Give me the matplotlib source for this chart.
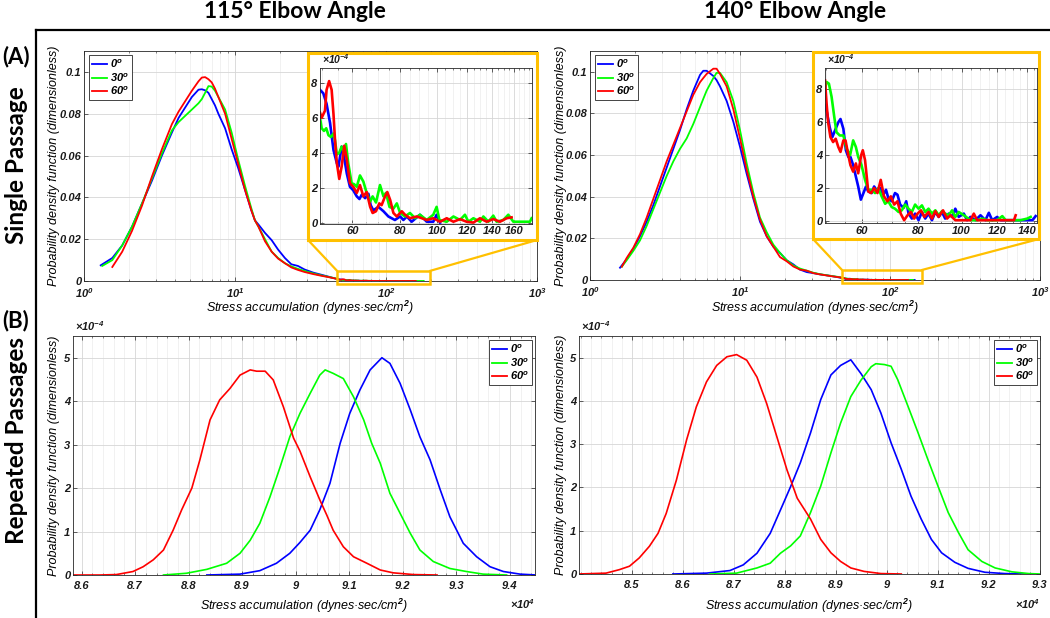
import matplotlib
matplotlib.use('Agg')
import matplotlib.pyplot as plt
import numpy as np
from matplotlib.patches import Rectangle, ConnectionPatch
from matplotlib.lines import Line2D
from matplotlib.ticker import LogLocator, NullFormatter, MultipleLocator, FixedLocator

plt.rcParams['font.family'] = ['Liberation Sans', 'DejaVu Sans']
plt.rcParams['font.style'] = 'italic'
plt.rcParams['font.weight'] = 'bold'
plt.rcParams['mathtext.fontset'] = 'custom'
plt.rcParams['mathtext.rm'] = 'Liberation Sans:italic:bold'
plt.rcParams['mathtext.it'] = 'Liberation Sans:italic:bold'
plt.rcParams['mathtext.bf'] = 'Liberation Sans:italic:bold'

# ---------------- DATA ----------------
labels = [r'0$^{o}$', r'30$^{o}$', r'60$^{o}$']
colors = ['#0000ff', '#00ff00', '#ff0000']
col_titles = ['115° Elbow Angle', '140° Elbow Angle']
row_titles = ['Single Passage', 'Repeated Passages']
row_tags = ['(A)', '(B)']

# --- (A) 115 deg, main curves (x: stress accumulation, y: pdf)
a115_0_x = [1.29, 1.54, 1.79, 2.08, 2.42, 2.82, 3.28, 3.82, 4.23, 4.68, 5.18, 5.73, 6.03, 6.34, 6.67, 7.01, 7.37, 7.76, 8.6, 9.5, 10.5, 11.6, 12.8, 13.55, 14.3, 15.8, 17.5, 19.3, 21.4, 23.6, 26.1, 28.9, 33.0, 37.3, 42.0, 46.0]
a115_0_y = [0.0075, 0.011, 0.017, 0.026, 0.037, 0.048, 0.060, 0.071, 0.078, 0.083, 0.088, 0.0915, 0.0917, 0.0912, 0.090, 0.087, 0.084, 0.080, 0.073, 0.063, 0.054, 0.044, 0.034, 0.029, 0.027, 0.023, 0.0195, 0.0150, 0.011, 0.008, 0.0072, 0.0055, 0.004, 0.003, 0.002, 0.0012]
a115_30_x = [1.32, 1.54, 1.79, 2.08, 2.42, 2.82, 3.28, 3.82, 4.23, 4.68, 5.18, 5.73, 6.03, 6.34, 6.67, 7.01, 7.37, 7.76, 8.6, 9.5, 10.5, 11.6, 12.8, 13.55, 14.3, 15.8, 17.5, 19.3, 21.4, 23.6, 26.1, 28.9, 33.0, 37.3, 42.0, 46.0]
a115_30_y = [0.0072, 0.010, 0.017, 0.026, 0.037, 0.049, 0.061, 0.072, 0.076, 0.079, 0.082, 0.085, 0.087, 0.090, 0.0932, 0.093, 0.091, 0.088, 0.082, 0.071, 0.058, 0.046, 0.035, 0.029, 0.026, 0.020, 0.014, 0.011, 0.0085, 0.007, 0.0058, 0.0048, 0.0036, 0.0027, 0.0019, 0.0013]
a115_60_x = [1.54, 1.79, 2.08, 2.42, 2.82, 3.28, 3.82, 4.23, 4.68, 5.18, 5.73, 6.03, 6.34, 6.67, 7.01, 7.37, 7.76, 8.6, 9.5, 10.5, 11.6, 12.8, 13.55, 14.3, 15.8, 17.5, 19.3, 21.4, 23.6, 26.1, 28.9, 33.0, 37.3, 42.0, 46.0]
a115_60_y = [0.0067, 0.014, 0.024, 0.036, 0.050, 0.063, 0.075, 0.081, 0.086, 0.091, 0.0955, 0.0973, 0.0975, 0.0965, 0.095, 0.092, 0.088, 0.080, 0.068, 0.056, 0.044, 0.034, 0.029, 0.026, 0.019, 0.014, 0.0107, 0.0085, 0.0065, 0.0053, 0.0043, 0.0033, 0.0025, 0.0018, 0.0012]

# --- (A) 115 deg, tails (y in units of 1e-4)
t115_0_x = [49.3, 50.3, 51.3, 52.4, 53.5, 54.0, 54.6, 55.1, 55.7, 56.2, 56.8, 58.0, 59.1, 60.3, 61.6, 62.6, 63.5, 64.8, 66.1, 67.0, 68.1, 70.2, 72.4, 74.6, 77.6, 80.1, 81.7, 83.4, 85.9, 90.3, 94.1, 97.9, 99.9, 102.0]
t115_0_y = [7.6, 7.4, 6.8, 5.7, 4.15, 3.8, 3.4, 3.2, 3.8, 4.35, 4.0, 2.8, 2.05, 1.85, 1.5, 1.35, 1.6, 1.4, 1.65, 1.0, 0.7, 0.9, 0.65, 0.35, 0.15, 0.35, 0.15, 0.35, 0.05, 0.45, 0.05, 0.05, 0.45, 0.0]
t115_30_x = [49.3, 49.8, 50.5, 51.2, 51.9, 52.7, 53.5, 54.0, 54.6, 55.4, 56.2, 57.0, 57.7, 58.5, 59.7, 60.6, 61.6, 62.8, 64.1, 65.4, 66.8, 67.8, 69.2, 70.9, 72.4, 73.5, 75.1, 76.9, 78.5, 80.1, 82.5, 85.0, 87.7, 90.3, 94.1, 97.9, 99.9, 101.6, 106.2, 110.6, 115.1, 118.6, 121.1, 124.8, 129.9, 132.6, 136.7, 140.8, 143.7, 149.6, 154.2, 159.0, 165.5, 175.8, 177.6]
t115_30_y = [6.0, 5.4, 5.25, 5.4, 5.0, 4.9, 5.1, 4.7, 3.9, 4.0, 4.35, 4.05, 4.5, 3.4, 2.25, 2.2, 2.05, 2.7, 2.35, 1.7, 1.2, 1.5, 1.15, 2.15, 1.5, 1.7, 0.9, 0.8, 1.1, 0.55, 0.35, 0.55, 0.25, 0.45, 0.15, 0.45, 0.9, 0.15, 0.05, 0.35, 0.15, 0.45, 0.05, 0.25, 0.05, 0.35, 0.05, 0.4, 0.05, 0.15, 0.45, 0.05, 0.05, 0.05, 0.25]
t115_60_x = [49.3, 49.8, 50.8, 51.3, 52.1, 52.9, 53.5, 54.0, 54.6, 55.4, 56.2, 57.1, 58.0, 59.1, 60.3, 61.6, 62.8, 64.1, 65.4, 66.8, 67.8, 69.2, 70.6, 71.6, 73.1, 74.1, 75.4, 76.9, 78.5, 80.9, 82.5, 85.0, 88.6, 94.1, 97.9, 102.0, 106.2, 110.6, 115.1, 119.8, 124.8, 129.9, 135.3, 140.8, 146.6, 152.7, 157.3]
t115_60_y = [6.3, 6.0, 6.4, 7.6, 8.1, 7.6, 6.2, 4.7, 3.4, 2.5, 3.2, 4.4, 3.6, 2.25, 2.05, 1.7, 2.15, 1.5, 1.75, 0.9, 0.55, 0.65, 1.1, 1.0, 1.5, 1.75, 1.3, 0.55, 0.35, 0.65, 0.45, 0.25, 0.35, 0.15, 0.25, 0.05, 0.25, 0.05, 0.2, 0.05, 0.0, 0.25, 0.05, 0.2, 0.05, 0.25, 0.3]

# --- (A) 140 deg, main curves
a140_0_x = [1.585, 1.756, 1.945, 2.154, 2.387, 2.644, 2.929, 3.245, 3.594, 3.981, 4.41, 4.885, 5.412, 5.69, 5.995, 6.641, 6.98, 7.356, 8.149, 9.027, 10.0, 11.08, 12.27, 13.59, 15.06, 16.68, 18.48, 20.47, 22.68, 25.12, 27.83, 30.83, 34.1, 40.0, 46.0]
a140_0_y = [0.0059, 0.010, 0.015, 0.021, 0.028, 0.036, 0.045, 0.054, 0.063, 0.072, 0.082, 0.091, 0.0985, 0.1005, 0.1005, 0.098, 0.096, 0.093, 0.086, 0.076, 0.064, 0.051, 0.039, 0.028, 0.021, 0.016, 0.013, 0.0095, 0.0075, 0.005, 0.0038, 0.0033, 0.0027, 0.002, 0.0012]
a140_30_x = [1.63, 1.756, 1.945, 2.154, 2.387, 2.644, 2.929, 3.245, 3.594, 3.981, 4.41, 4.885, 5.412, 5.69, 5.995, 6.641, 6.98, 7.356, 8.149, 9.027, 10.0, 11.08, 12.27, 13.59, 15.06, 16.68, 18.48, 20.47, 22.68, 25.12, 27.83, 30.83, 34.1, 40.0, 46.0]
a140_30_y = [0.0064, 0.0095, 0.014, 0.019, 0.026, 0.034, 0.042, 0.050, 0.057, 0.063, 0.068, 0.075, 0.083, 0.087, 0.091, 0.097, 0.0995, 0.0995, 0.095, 0.086, 0.072, 0.056, 0.042, 0.030, 0.023, 0.017, 0.013, 0.0095, 0.007, 0.0055, 0.0045, 0.0035, 0.0028, 0.002, 0.0014]
a140_60_x = [1.63, 1.756, 1.945, 2.154, 2.387, 2.644, 2.929, 3.245, 3.594, 3.981, 4.41, 4.885, 5.412, 5.69, 5.995, 6.641, 6.98, 7.356, 8.149, 9.027, 10.0, 11.08, 12.27, 13.59, 15.06, 16.68, 18.48, 20.47, 22.68, 25.12, 27.83, 30.83, 34.1, 40.0, 46.0]
a140_60_y = [0.0064, 0.0106, 0.0155, 0.022, 0.030, 0.039, 0.048, 0.057, 0.065, 0.073, 0.081, 0.089, 0.095, 0.097, 0.099, 0.1015, 0.1015, 0.099, 0.093, 0.082, 0.068, 0.053, 0.040, 0.029, 0.021, 0.016, 0.011, 0.009, 0.0065, 0.005, 0.0045, 0.0033, 0.0027, 0.0019, 0.0013]

# --- (A) 140 deg, tails (y in units of 1e-4)
t140_0_x = [49.7, 50.2, 50.9, 51.6, 52.3, 53.2, 53.8, 54.6, 55.3, 56.0, 56.6, 57.4, 58.2, 58.9, 59.7, 60.5, 61.3, 62.0, 63.1, 63.9, 65.0, 65.9, 67.0, 67.9, 68.7, 69.9, 71.1, 72.0, 73.0, 74.3, 75.3, 76.2, 77.5, 78.8, 80.2, 81.6, 83.0, 84.4, 85.9, 87.4, 88.9, 90.4, 91.9, 93.6, 95.2, 96.8, 98.5, 101.1, 102.8, 104.6, 107.3, 110.1, 112.9, 114.9, 116.9, 119.9, 122.0, 126.3, 130.7, 135.2, 139.9, 143.6, 146.0]
t140_0_y = [7.05, 6.6, 5.7, 5.1, 5.5, 6.0, 6.2, 5.6, 4.3, 3.9, 3.9, 3.4, 2.7, 2.1, 1.3, 1.7, 2.1, 1.8, 1.7, 2.1, 1.8, 2.0, 1.6, 1.9, 1.4, 1.2, 1.7, 1.6, 1.0, 0.8, 1.2, 0.45, 0.15, 0.45, 0.05, 0.55, 0.15, 0.45, 0.05, 0.55, 0.25, 0.55, 0.15, 0.45, 0.25, 0.75, 0.25, 0.45, 0.05, 0.25, 0.05, 0.35, 0.05, 0.5, 0.05, 0.25, 0.05, 0.05, 0.05, 0.05, 0.05, 0.05, 0.3]
t140_30_x = [49.7, 50.1, 50.7, 51.4, 52.1, 52.7, 53.6, 54.6, 55.5, 56.5, 57.4, 58.2, 58.9, 59.9, 61.0, 62.0, 63.1, 64.2, 65.3, 66.4, 67.6, 68.7, 69.9, 71.1, 72.4, 73.6, 74.9, 76.2, 77.5, 78.8, 80.2, 81.6, 83.0, 84.4, 85.9, 87.4, 88.9, 90.4, 91.9, 93.6, 95.2, 96.8, 98.5, 101.1, 104.6, 108.2, 111.0, 113.9, 116.9, 119.9, 123.1, 125.2, 130.7, 135.2, 139.9, 142.3]
t140_30_y = [8.05, 8.45, 8.35, 7.55, 6.35, 5.4, 5.2, 5.2, 4.4, 4.0, 4.9, 4.5, 3.9, 3.4, 2.5, 1.9, 1.9, 1.7, 2.0, 1.5, 1.05, 1.2, 0.85, 0.75, 0.55, 0.65, 1.0, 0.75, 0.55, 1.0, 0.75, 0.95, 0.55, 0.75, 0.45, 0.65, 0.35, 0.6, 0.45, 0.35, 0.65, 0.25, 0.55, 0.35, 0.05, 0.05, 0.15, 0.05, 0.05, 0.05, 0.3, 0.05, 0.05, 0.05, 0.15, 0.25]
t140_60_x = [49.7, 50.1, 50.5, 51.1, 51.8, 52.5, 53.2, 53.8, 54.6, 55.2, 56.0, 56.6, 57.4, 58.2, 58.9, 59.8, 60.3, 61.0, 62.0, 62.9, 63.9, 65.0, 66.1, 67.2, 68.4, 69.6, 70.8, 72.0, 73.2, 74.5, 75.8, 77.1, 78.4, 79.8, 81.2, 82.6, 84.4, 85.9, 87.4, 88.9, 90.9, 92.8, 94.4, 96.8, 100.2, 104.6, 106.4, 108.2, 111.0, 116.9, 122.0, 126.3, 130.7, 131.8]
t140_60_y = [8.55, 7.15, 6.0, 5.1, 4.8, 5.0, 4.5, 4.2, 4.9, 4.9, 4.0, 3.4, 3.0, 3.5, 2.9, 4.0, 4.3, 3.7, 1.8, 1.7, 2.0, 1.7, 2.5, 1.5, 1.2, 1.5, 1.0, 1.2, 0.45, 0.05, 0.35, 0.55, 0.15, 0.45, 0.65, 0.25, 0.55, 0.15, 0.6, 0.25, 0.65, 0.15, 0.35, 0.05, 0.05, 0.05, 0.45, 0.05, 0.05, 0.05, 0.05, 0.05, 0.05, 0.35]

# --- (B) repeated passages (x in units of 1e4, y in units of 1e-4)
b115_0_x = [8.834, 8.896, 8.933, 8.964, 8.989, 9.008, 9.027, 9.045, 9.064, 9.083, 9.101, 9.12, 9.139, 9.161, 9.176, 9.195, 9.214, 9.232, 9.251, 9.27, 9.288, 9.313, 9.338, 9.363, 9.388, 9.419, 9.45]
b115_0_y = [0.0, 0.02, 0.1, 0.27, 0.5, 0.75, 1.03, 1.5, 2.11, 3.03, 3.72, 4.26, 4.72, 5.0, 4.87, 4.41, 3.8, 3.18, 2.65, 1.96, 1.34, 0.73, 0.42, 0.19, 0.08, 0.02, 0.0]
b115_30_x = [8.753, 8.796, 8.834, 8.871, 8.896, 8.915, 8.933, 8.952, 8.971, 8.989, 9.008, 9.027, 9.045, 9.055, 9.07, 9.089, 9.108, 9.127, 9.142, 9.158, 9.176, 9.195, 9.214, 9.232, 9.257, 9.288, 9.319, 9.35, 9.394]
b115_30_y = [0.0, 0.04, 0.13, 0.27, 0.5, 0.8, 1.19, 1.8, 2.49, 3.18, 3.72, 4.18, 4.6, 4.72, 4.64, 4.52, 4.1, 3.57, 3.03, 2.57, 1.88, 1.42, 0.96, 0.575, 0.31, 0.15, 0.08, 0.02, 0.0]
b115_60_x = [8.585, 8.634, 8.665, 8.696, 8.715, 8.734, 8.753, 8.771, 8.787, 8.806, 8.821, 8.840, 8.858, 8.877, 8.896, 8.915, 8.927, 8.943, 8.958, 8.977, 8.996, 9.008, 9.027, 9.045, 9.058, 9.07, 9.089, 9.108, 9.133, 9.158, 9.182, 9.22, 9.264]
b115_60_y = [0.0, 0.0, 0.01, 0.08, 0.19, 0.35, 0.575, 1.03, 1.5, 2.0, 2.65, 3.57, 4.03, 4.29, 4.6, 4.72, 4.69, 4.69, 4.49, 3.87, 3.15, 2.85, 2.26, 1.73, 1.38, 1.03, 0.65, 0.42, 0.27, 0.115, 0.05, 0.01, 0.0]

b140_0_x = [8.58, 8.646, 8.692, 8.718, 8.745, 8.771, 8.797, 8.811, 8.83, 8.85, 8.87, 8.89, 8.909, 8.929, 8.949, 8.969, 8.988, 9.008, 9.028, 9.047, 9.067, 9.087, 9.107, 9.133, 9.159, 9.192, 9.231, 9.27]
b140_0_y = [0.0, 0.02, 0.08, 0.21, 0.48, 0.94, 1.64, 2.02, 2.57, 3.26, 4.03, 4.6, 4.82, 4.95, 4.63, 4.26, 3.72, 3.03, 2.42, 1.8, 1.27, 0.8, 0.49, 0.27, 0.13, 0.04, 0.01, 0.0]
b140_30_x = [8.653, 8.705, 8.745, 8.771, 8.791, 8.811, 8.83, 8.85, 8.87, 8.89, 8.909, 8.929, 8.949, 8.969, 8.978, 8.995, 9.008, 9.021, 9.041, 9.061, 9.08, 9.1, 9.12, 9.14, 9.159, 9.186, 9.212, 9.245, 9.278, 9.3]
b140_30_y = [0.0, 0.02, 0.14, 0.25, 0.48, 0.65, 0.88, 1.42, 2.03, 2.8, 3.49, 4.1, 4.48, 4.79, 4.86, 4.84, 4.8, 4.49, 3.88, 3.26, 2.65, 2.03, 1.42, 0.96, 0.56, 0.29, 0.14, 0.05, 0.01, 0.0]
b140_60_x = [8.395, 8.449, 8.475, 8.495, 8.514, 8.534, 8.551, 8.567, 8.587, 8.607, 8.626, 8.646, 8.666, 8.686, 8.705, 8.725, 8.745, 8.764, 8.784, 8.804, 8.824, 8.85, 8.87, 8.89, 8.909, 8.929, 8.955, 8.988, 9.028]
b140_60_y = [0.0, 0.02, 0.1, 0.18, 0.37, 0.64, 0.94, 1.4, 2.17, 3.1, 3.86, 4.44, 4.82, 5.02, 5.07, 4.94, 4.55, 3.94, 3.17, 2.4, 1.75, 1.27, 0.8, 0.49, 0.29, 0.14, 0.06, 0.01, 0.0]

# ---------------- LAYOUT ----------------
W, H = 1050, 618
GOLD = '#FFC000'
EDGE = '#262626'
TXT = '#1a1a1a'
fig = plt.figure(figsize=(W / 100, H / 100), dpi=100)


def rect(l, t, r, b):
    return [l / W, 1 - b / H, (r - l) / W, (b - t) / H]


def style(ax, fs=8):
    ax.set_axisbelow(True)
    for s in ax.spines.values():
        s.set_color(EDGE)
        s.set_linewidth(0.6)
    ax.tick_params(which='both', direction='in', top=True, right=True,
                   colors=EDGE, labelsize=fs, pad=1.8, labelcolor=TXT)
    ax.tick_params(which='major', length=3, width=0.5)
    ax.tick_params(which='minor', length=1.6, width=0.4)


def grids(ax):
    ax.grid(True, which='major', color='#d6d6d6', lw=0.6)
    ax.grid(True, which='minor', axis='x', color='#ececec', lw=0.5)


def add_legend(ax, loc, anchor):
    leg = ax.legend(labels, loc=loc, bbox_to_anchor=anchor, fontsize=8,
                    handlelength=1.4, handletextpad=0.25, borderpad=0.25, labelspacing=0.1,
                    borderaxespad=0, fancybox=False, framealpha=1, edgecolor=EDGE)
    leg.get_frame().set_linewidth(0.6)
    for h in leg.get_lines():
        h.set_linewidth(1.3)


XLAB = r'Stress accumulation (dynes·sec/cm$^{2}$)'
YLAB = 'Probability density function (dimensionless)'

top_sets = [
    dict(ax=(84, 51, 537, 281), ylab_right=60,
         main=[(a115_0_x, a115_0_y), (a115_30_x, a115_30_y), (a115_60_x, a115_60_y)],
         tail=[(t115_0_x, t115_0_y), (t115_30_x, t115_30_y), (t115_60_x, t115_60_y)],
         box=(308, 53, 537, 240), inset=(320, 68, 532, 224), ixlim=(49.3, 178), iylim=(-0.08, 8.85),
         ixt=[60, 80, 100, 120, 140, 160], zx=(47.5, 195), zy=(-0.0014, 0.0048)),
    dict(ax=(590, 51, 1040, 280), ylab_right=567,
         main=[(a140_0_x, a140_0_y), (a140_30_x, a140_30_y), (a140_60_x, a140_60_y)],
         tail=[(t140_0_x, t140_0_y), (t140_30_x, t140_30_y), (t140_60_x, t140_60_y)],
         box=(813, 52, 1039, 239), inset=(825, 68, 1037, 223), ixlim=(49.7, 147), iylim=(-0.12, 9.3),
         ixt=[60, 80, 100, 120, 140], zx=(47.9, 163), zy=(-0.0014, 0.0048)),
]

for d in top_sets:
    l, t, r, b = d['ax']
    ax = fig.add_axes(rect(l, t, r, b))
    ax.set_xscale('log')
    for (mx, my), (tx, ty), c in zip(d['main'], d['tail'], colors):
        x = np.concatenate([mx, tx])
        y = np.concatenate([my, np.array(ty) * 1e-4])
        ax.plot(x, y, color=c, lw=1.3)
    ax.set_xlim(1, 1000)
    ax.set_ylim(0, 0.11)
    ax.set_xticks([1, 10, 100, 1000])
    ax.set_xticklabels([r'$10^{0}$', r'$10^{1}$', r'$10^{2}$', r'$10^{3}$'])
    ax.xaxis.set_minor_locator(LogLocator(base=10, subs=np.arange(2, 10)))
    ax.xaxis.set_minor_formatter(NullFormatter())
    ax.set_yticks([0, 0.02, 0.04, 0.06, 0.08, 0.1])
    ax.set_yticklabels(['0', '0.02', '0.04', '0.06', '0.08', '0.1'])
    style(ax)
    ax.tick_params(axis='x', which='major', pad=3.5)
    grids(ax)
    ax.set_xlabel(XLAB, fontsize=9)
    ax.set_ylabel(YLAB, fontsize=9)
    ax.xaxis.set_label_coords(0.5, -(299 - b) / (b - t))
    ax.yaxis.set_label_coords(-(l - d['ylab_right']) / (r - l), 0.5)
    add_legend(ax, 'upper left', (5 / (r - l), 1 - 4 / (b - t)))
    # zoom rectangle on main axes
    zx0, zx1 = d['zx']
    zy0, zy1 = d['zy']
    ax.add_patch(Rectangle((zx0, zy0), zx1 - zx0, zy1 - zy0, fill=False, ec=GOLD, lw=1.8,
                           clip_on=False, zorder=6))
    # white box with gold frame
    bl, bt, br, bb = d['box']
    fig.add_artist(Rectangle((bl / W, 1 - bb / H), (br - bl) / W, (bb - bt) / H, transform=fig.transFigure,
                             facecolor='white', edgecolor=GOLD, lw=2.2, zorder=2))
    for xa, xb in [(zx0, bl), (zx1, br)]:
        con = ConnectionPatch(xyA=(xa, zy1), coordsA=ax.transData, xyB=(xb / W, 1 - bb / H),
                              coordsB=fig.transFigure, color=GOLD, lw=1.6, zorder=2)
        fig.add_artist(con)
    # inset
    il, it_, ir, ib = d['inset']
    ins = fig.add_axes(rect(il, it_, ir, ib))
    ins.set_zorder(3)
    ins.set_xscale('log')
    for (tx, ty), c in zip(d['tail'], colors):
        ins.plot(tx, ty, color=c, lw=1.9)
    ins.set_xlim(*d['ixlim'])
    ins.set_ylim(*d['iylim'])
    ins.xaxis.set_major_locator(FixedLocator(d['ixt']))
    ins.set_xticklabels([str(v) for v in d['ixt']])
    ins.xaxis.set_minor_locator(FixedLocator(np.arange(50, 180, 5)))
    ins.xaxis.set_minor_formatter(NullFormatter())
    ins.set_yticks([0, 2, 4, 6, 8])
    ins.set_yticklabels(['0', '2', '4', '6', '8'])
    style(ins, fs=8)
    grids(ins)
    ins.text(0.01, 1.01, r'×10$^{-4}$', transform=ins.transAxes, fontsize=7.5, ha='left', va='bottom',
             color=TXT)

bottom_sets = [
    dict(ax=(73, 336, 535, 575), ylab_right=60,
         data=[(b115_0_x, b115_0_y), (b115_30_x, b115_30_y), (b115_60_x, b115_60_y)],
         xlim=(8.584, 9.447), xt=[8.6, 8.7, 8.8, 8.9, 9.0, 9.1, 9.2, 9.3, 9.4]),
    dict(ax=(579, 336, 1040, 574), ylab_right=567,
         data=[(b140_0_x, b140_0_y), (b140_30_x, b140_30_y), (b140_60_x, b140_60_y)],
         xlim=(8.396, 9.3), xt=[8.5, 8.6, 8.7, 8.8, 8.9, 9.0, 9.1, 9.2, 9.3]),
]

for d in bottom_sets:
    l, t, r, b = d['ax']
    ax = fig.add_axes(rect(l, t, r, b))
    for (x, y), c in zip(d['data'], colors):
        ax.plot(x, y, color=c, lw=1.2)
    ax.set_xlim(*d['xlim'])
    ax.set_ylim(0, 5.5)
    ax.set_xticks(d['xt'])
    ax.set_xticklabels([('%g' % v) for v in d['xt']])
    ax.xaxis.set_minor_locator(MultipleLocator(0.02))
    ax.set_yticks([0, 1, 2, 3, 4, 5])
    ax.set_yticklabels(['0', '1', '2', '3', '4', '5'])
    style(ax)
    grids(ax)
    ax.tick_params(axis='x', which='major', pad=4)
    ax.set_xlabel(XLAB, fontsize=9)
    ax.set_ylabel(YLAB, fontsize=9)
    ax.xaxis.set_label_coords(0.5, -(597 - b) / (b - t))
    ax.yaxis.set_label_coords(-(l - d['ylab_right']) / (r - l), 0.5)
    ax.text(1.0, -(597 - b) / (b - t), r'×10$^{4}$', transform=ax.transAxes, fontsize=8,
            ha='right', va='top', color=TXT)
    ax.text(0.005, 1.012, r'×10$^{-4}$', transform=ax.transAxes, fontsize=8,
            ha='left', va='bottom', color=TXT)
    add_legend(ax, 'upper right', (1 - 3 / (r - l), 1 - 4 / (b - t)))

# ---------------- FRAME AND HEADINGS ----------------
fig.add_artist(Line2D([36 / W, 36 / W], [0, 1 - 30 / H], color='black', lw=1.6, transform=fig.transFigure))
fig.add_artist(Line2D([36 / W, 1], [1 - 30 / H, 1 - 30 / H], color='black', lw=1.6, transform=fig.transFigure))

for txt, xc in zip(col_titles, [295, 795]):
    fig.text(xc / W, 1 - 18.5 / H, txt, ha='center', va='baseline', fontsize=16.5,
             fontfamily='Lato', fontweight='bold', fontstyle='normal')
for txt, yc in zip(row_tags, [57, 321]):
    fig.text(16 / W, 1 - yc / H, txt, ha='center', va='center', fontsize=16,
             fontfamily='Lato', fontweight='bold', fontstyle='normal')
for txt, yc in zip(row_titles, [165, 440]):
    fig.text(17 / W, 1 - yc / H, txt, ha='center', va='center', rotation=90, fontsize=17.5,
             fontfamily='Lato', fontweight='bold', fontstyle='normal')

fig.savefig('out.png', dpi=100)
